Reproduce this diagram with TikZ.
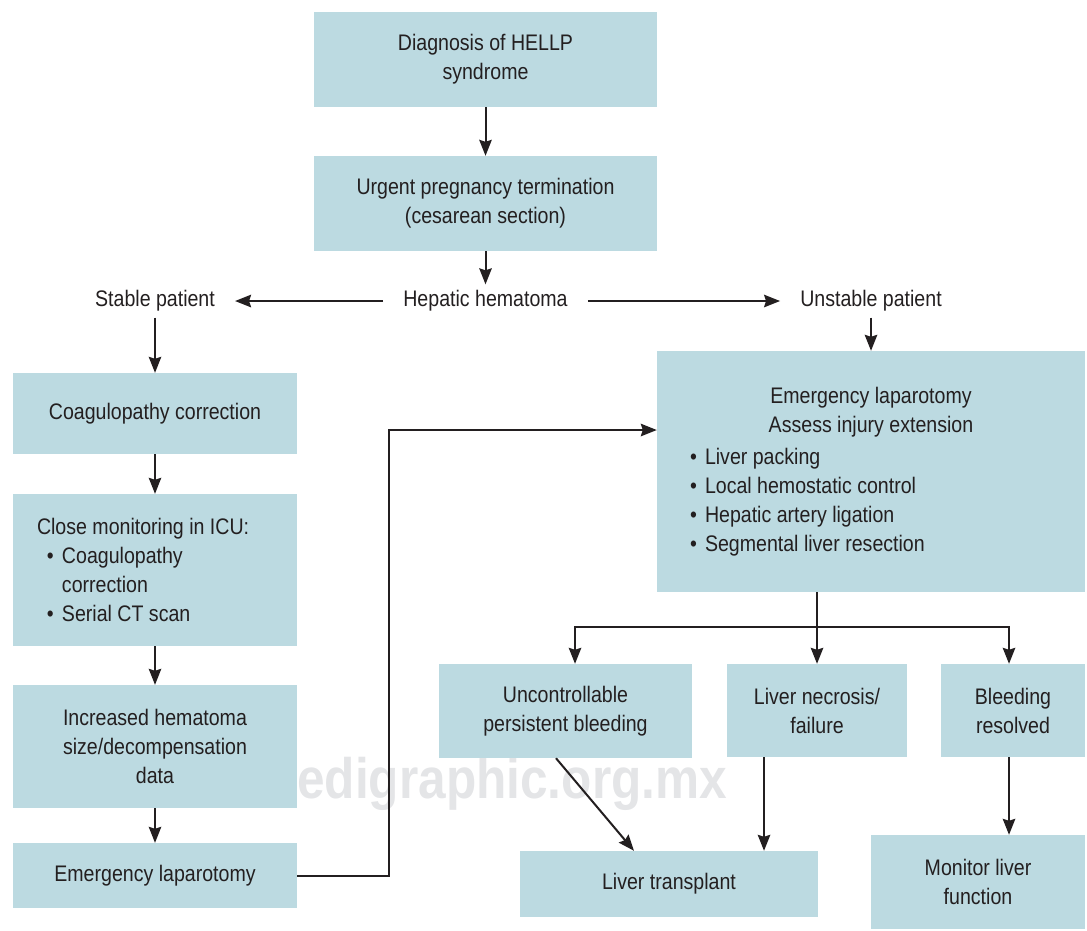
\documentclass[tikz,border=0pt]{standalone}
\usepackage{fontspec}
\setmainfont{Liberation Sans}[FakeStretch=0.87]
\usetikzlibrary{arrows.meta}
\definecolor{boxblue}{RGB}{188,218,225}
\definecolor{inkgray}{RGB}{35,31,32}
\definecolor{markgray}{RGB}{228,229,231}
\newcommand{\bul}{\makebox[15pt][l]{•}}
\tikzset{
  box/.style={fill=boxblue, inner sep=0pt, align=center},
  lbl/.style={inner xsep=20pt, inner ysep=6pt},
  arr/.style={-{Stealth[length=16pt,width=12.5pt,inset=2pt]}, line width=2pt, draw=inkgray},
}

\begin{document}
\begin{tikzpicture}[x=1pt,y=1pt,yscale=-1,xscale=1,font=\fontsize{22.5}{29}\selectfont,text=inkgray]
            \useasboundingbox (0,0) rectangle (1087,930);

            % Text Node
            \draw (297,798) node [anchor=base west][inner sep=0pt][text=markgray,font=\fontsize{57}{60}\selectfont\bfseries] (mark) {edigraphic.org.mx};

            %Shape: Rectangle
            \draw (485.5,59.5) node [box][minimum width=343pt,minimum height=95pt] (diag) {Diagnosis of HELLP\\syndrome};
            %Shape: Rectangle
            \draw (485.5,203.5) node [box][minimum width=343pt,minimum height=95pt] (urgent) {Urgent pregnancy termination\\(cesarean section)};

            % Text Node
            \draw (485.5,301) node [lbl] (hepatic) {Hepatic hematoma};
            % Text Node
            \draw (155,301) node [lbl] (stable) {Stable patient};
            % Text Node
            \draw (871,301) node [lbl] (unstable) {Unstable patient};

            %Shape: Rectangle
            \draw (155,413.5) node [box][minimum width=284pt,minimum height=81pt] (coag) {Coagulopathy correction};
            %Shape: Rectangle
            \draw (155,570) node [box][minimum width=284pt,minimum height=152pt] (icu) {\begin{minipage}{284pt}\raggedright\leftskip=24pt
              Close monitoring in ICU:\\
              \hspace*{10pt}\bul Coagulopathy\\
              \hspace*{25pt}correction\\
              \hspace*{10pt}\bul Serial CT scan\end{minipage}};
            %Shape: Rectangle
            \draw (155,746.5) node [box][minimum width=284pt,minimum height=123pt] (incr) {Increased hematoma\\size/decompensation\\data};
            %Shape: Rectangle
            \draw (155,875.5) node [box][minimum width=284pt,minimum height=65pt] (lapl) {Emergency laparotomy};

            %Shape: Rectangle
            \draw (871,471.5) node [box][minimum width=428pt,minimum height=241pt] (lapr) {\begin{minipage}{428pt}\centering
              Emergency laparotomy\\
              Assess injury extension\par
              \vspace{3pt}\raggedright\leftskip=33pt
              \bul Liver packing\\
              \bul Local hemostatic control\\
              \bul Hepatic artery ligation\\
              \bul Segmental liver resection\end{minipage}};

            %Shape: Rectangle
            \draw (565.5,711) node [box][minimum width=253pt,minimum height=94pt] (uncont) {Uncontrollable\\persistent bleeding};
            %Shape: Rectangle
            \draw (817,710.5) node [box][minimum width=180pt,minimum height=93pt] (necro) {Liver necrosis/\\failure};
            %Shape: Rectangle
            \draw (1013,710.5) node [box][minimum width=144pt,minimum height=93pt] (bleed) {Bleeding\\resolved};
            %Shape: Rectangle
            \draw (669,884) node [box][minimum width=298pt,minimum height=66pt] (transpl) {Liver transplant};
            %Shape: Rectangle
            \draw (978,882) node [box][minimum width=214pt,minimum height=94pt] (monitor) {Monitor liver\\function};

            \coordinate (fork) at (817,627);
            \coordinate (necroout) at ([xshift=-53pt]necro.south);
            \coordinate (bleedout) at ([xshift=-4pt]bleed.south);

            %Straight Lines
            \draw [arr] (diag.south) -- (urgent.north);
            \draw [arr] (urgent.south) -- (hepatic.north);
            \draw [arr] (hepatic.west) -- (stable.east);
            \draw [arr] (hepatic.east) -- (unstable.west);
            \draw [arr] (stable.south) -- (coag.north);
            \draw [arr] (coag.south) -- (icu.north);
            \draw [arr] (icu.south) -- (incr.north);
            \draw [arr] (incr.south) -- (lapl.north);
            \draw [arr] (lapl.east) -- ++(92,0) |- ([yshift=-41.5pt]lapr.west);
            \draw [arr] (unstable.south) -- (lapr.north);
            \draw [arr] (lapr.south -| necro.north) -- (necro.north);
            \draw [arr] (fork) -| ([xshift=9.5pt]uncont.north);
            \draw [arr] (fork) -| ([xshift=-4pt]bleed.north);
            \draw [arr] ([xshift=-9.5pt]uncont.south) -- ([xshift=-35pt]transpl.north);
            \draw [arr] (necroout) -- (necroout |- transpl.north);
            \draw [arr] (bleedout) -- (bleedout |- monitor.north);
        \end{tikzpicture}
\end{document}
